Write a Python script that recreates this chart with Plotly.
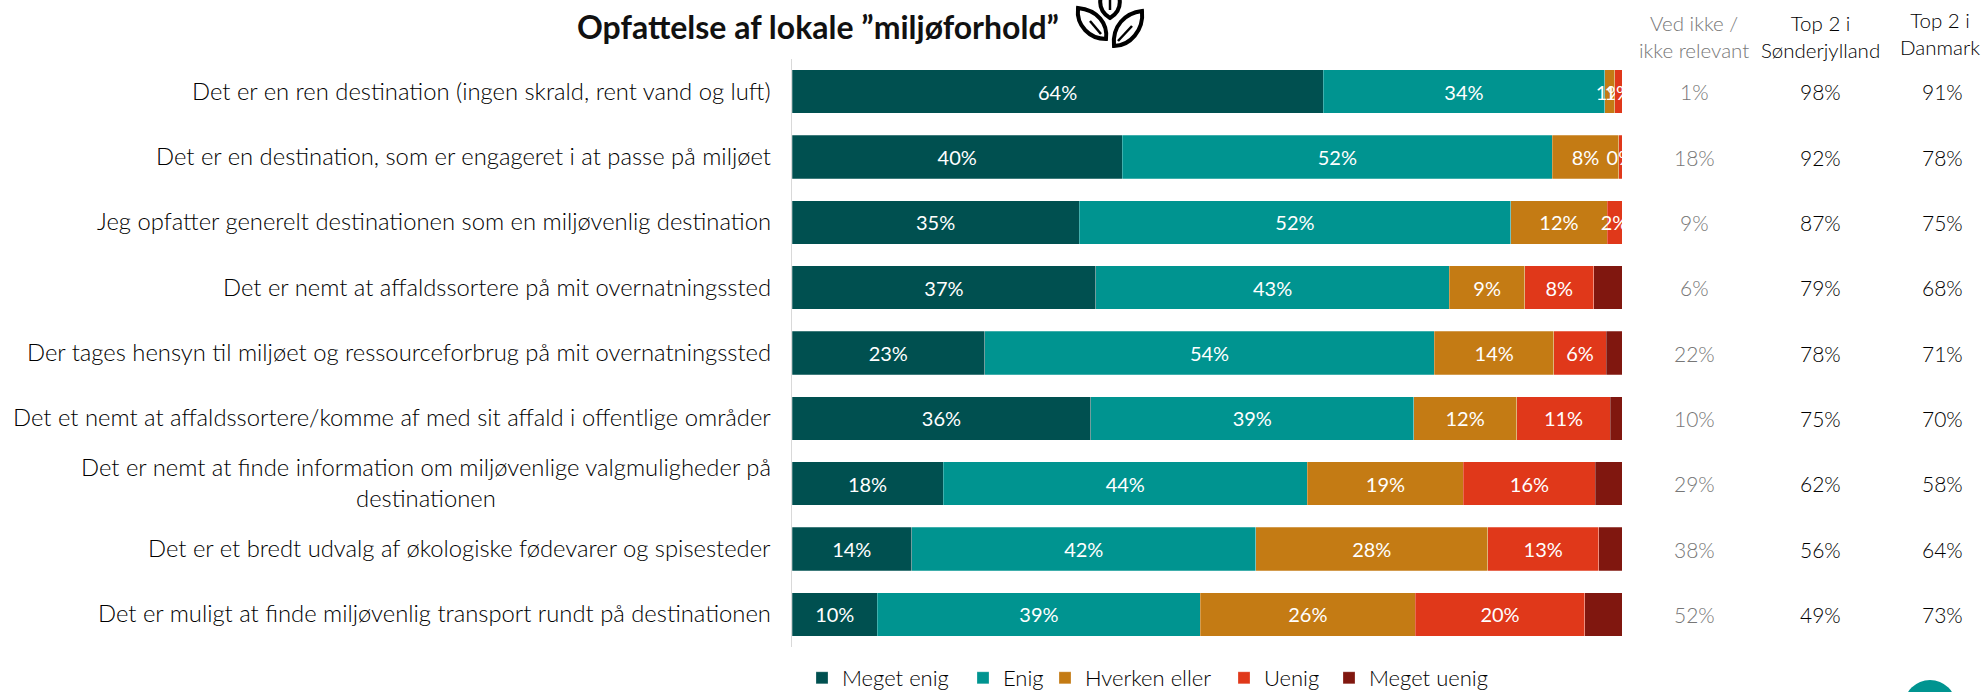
import plotly.graph_objects as go

categories = [
    "Det er en ren destination (ingen skrald, rent vand og luft)",
    "Det er en destination, som er engageret i at passe på miljøet",
    "Jeg opfatter generelt destinationen som en miljøvenlig destination",
    "Det er nemt at affaldssortere på mit overnatningssted",
    "Der tages hensyn til miljøet og ressourceforbrug på mit overnatningssted",
    "Det et nemt at affaldssortere/komme af med sit affald i offentlige områder",
    "Det er nemt at finde information om miljøvenlige valgmuligheder på<br>destinationen",
    "Det er et bredt udvalg af økologiske fødevarer og spisesteder",
    "Det er muligt at finde miljøvenlig transport rundt på destinationen",
]
meget_enig = [64.0, 39.8, 34.6, 36.6, 23.2, 36.0, 18.2, 14.4, 10.3]
enig = [33.9, 51.8, 52.0, 42.6, 54.2, 38.9, 43.9, 41.5, 38.9]
hverken = [1.2, 8.0, 11.6, 9.1, 14.4, 12.4, 18.8, 27.9, 25.9]
uenig = [0.9, 0.4, 1.8, 8.3, 6.3, 11.3, 15.9, 13.4, 20.4]
meget_uenig = [0.0, 0.0, 0.0, 3.4, 1.9, 1.4, 3.2, 2.8, 4.5]
ved_ikke = ["1%", "18%", "9%", "6%", "22%", "10%", "29%", "38%", "52%"]
top2_sj = ["98%", "92%", "87%", "79%", "78%", "75%", "62%", "56%", "49%"]
top2_dk = ["91%", "78%", "75%", "68%", "71%", "70%", "58%", "64%", "73%"]

FONT = "Lato"
W, H = 1985, 692
L, R, T, B = 792, 1622, 59, 647

def px(x):
    return (x - L) / (R - L)
def py(y):
    return (B - y) / (B - T)
def path(segments):
    out = []
    for s in segments:
        if isinstance(s, str):
            out.append(s)
        else:
            out.append(f"{px(s[0]):.5f},{py(s[1]):.5f}")
    return " ".join(out)

series = [
    ("Meget enig", meget_enig, "#005050", True, 116),
    ("Enig", enig, "#009490", True, 37),
    ("Hverken eller", hverken, "#C47B14", True, 134),
    ("Uenig", uenig, "#E0381A", True, 60),
    ("Meget uenig", meget_uenig, "#80170F", False, 150),
]

fig = go.Figure()
for name, vals, col, lab, lw in series:
    fig.add_trace(go.Bar(
        name=name, y=categories, x=vals, orientation="h",
        marker=dict(color=col, line=dict(color="rgba(255,255,255,0.5)", width=0.5)),
        texttemplate="%{x:.0f}%" if lab else None,
        textposition="inside" if lab else "none",
        insidetextanchor="middle", constraintext="none",
        textangle=0,
        insidetextfont=dict(color="white", size=20, family=FONT),
        legendwidth=lw,
    ))

ann = []
for c in categories:
    ann.append(dict(x=0, y=c, xref="paper", yref="y", text=c, showarrow=False,
                    xanchor="right", xshift=-19, yshift=1, align="center",
                    font=dict(size=23.8, family=FONT, color="#000000", weight=300)))
columns = [(1694, ved_ikke, "#777777"), (1820, top2_sj, "#000000"), (1942, top2_dk, "#000000")]
for xp, col_vals, colr in columns:
    for c, v in zip(categories, col_vals):
        ann.append(dict(x=px(xp), y=c, xref="paper", yref="y", text=v, showarrow=False,
                        xanchor="center", font=dict(size=21, family=FONT, color=colr, weight=300)))
headers = [
    (1694, 36, "Ved ikke /<br>ikke relevant", "#777777"),
    (1820, 36, "Top 2 i<br>Sønderjylland", "#000000"),
    (1940, 33, "Top 2 i<br>Danmark", "#000000"),
]
for xp, yp, t, colr in headers:
    ann.append(dict(x=px(xp), y=py(yp), xref="paper", yref="paper", text=t, showarrow=False,
                    xanchor="center", yanchor="middle", align="center",
                    font=dict(size=20.5, family=FONT, color=colr, weight=300)))
ann.append(dict(x=px(818), y=py(26), xref="paper", yref="paper",
                text="<b>Opfattelse af lokale ”miljøforhold”</b>", showarrow=False,
                xanchor="center", yanchor="middle",
                font=dict(size=32, family=FONT, color="#111111")))

leaf = dict(type="path", xref="paper", yref="paper", fillcolor="white",
            line=dict(color="#000000", width=4))
vein = dict(type="path", xref="paper", yref="paper", line=dict(color="#000000", width=2.5))
shapes = [
    dict(type="line", xref="paper", yref="paper", x0=px(791.5), x1=px(791.5), y0=0, y1=1,
         line=dict(color="#d9d9d9", width=1)),
    dict(leaf, path=path(["M", (1078, 8), "C", (1098, 10), (1108, 24), (1106, 39),
                          "C", (1090, 39), (1076, 26), (1078, 8), "Z"])),
    dict(vein, path=path(["M", (1090, 21), "L", (1101, 34)])),
    dict(leaf, path=path(["M", (1142, 11), "C", (1125, 13), (1112, 26), (1114, 46),
                          "C", (1130, 46), (1144, 30), (1142, 11), "Z"])),
    dict(vein, path=path(["M", (1132, 26), "L", (1118, 41)])),
    dict(leaf, path=path(["M", (1110, 18), "C", (1100, 12), (1099, 4), (1101, -4),
                          "L", (1119, -4), "C", (1121, 4), (1120, 12), (1110, 18), "Z"])),
    dict(vein, path=path(["M", (1110, 10), "L", (1110, -2)])),
    dict(type="circle", xref="paper", yref="paper", x0=px(1904), x1=px(1956), y0=py(732), y1=py(680),
         fillcolor="#009490", line=dict(width=0)),
]

fig.update_layout(
    width=W, height=H, barmode="stack", bargap=0.332,
    margin=dict(l=L, r=W - R, t=T, b=H - B, autoexpand=False),
    paper_bgcolor="white", plot_bgcolor="white",
    xaxis=dict(range=[0, 100], visible=False, fixedrange=True),
    yaxis=dict(autorange="reversed", showticklabels=False, ticks="", showgrid=False,
               zeroline=False, showline=False),
    legend=dict(orientation="h", x=px(802), xanchor="left", y=py(657), yanchor="top",
                font=dict(size=22, family=FONT, color="#000000", weight=300), traceorder="normal",
                bgcolor="rgba(0,0,0,0)", itemclick=False, itemdoubleclick=False),
    annotations=ann, shapes=shapes, showlegend=True,
)
fig.write_html("out.html", config={"displayModeBar": False},
               post_script="document.body.style.margin='0';document.body.style.overflow='hidden';")
